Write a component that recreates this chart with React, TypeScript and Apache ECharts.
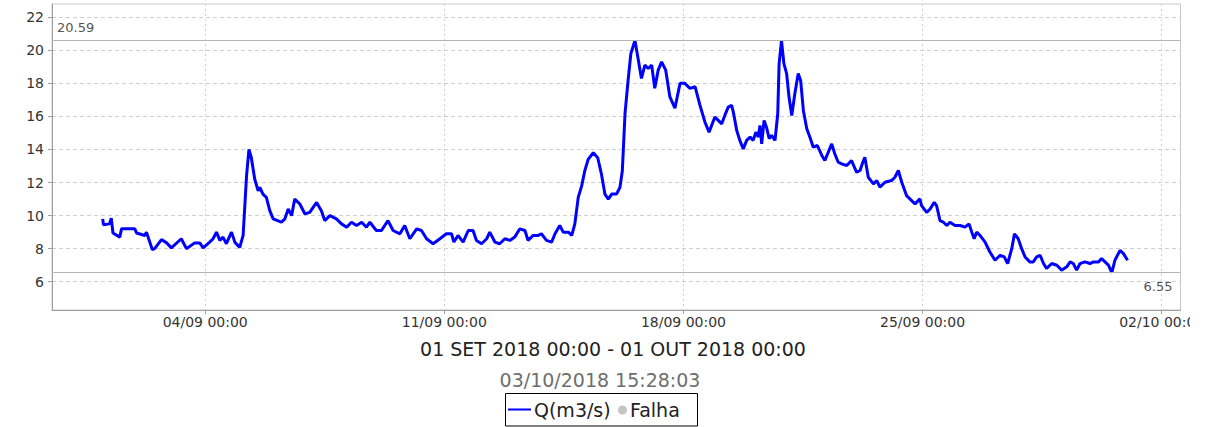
import React, { useEffect, useRef } from "react";
import * as echarts from "echarts";

const seriesName = "Q(m3/s)";
const failName = "Falha";
const periodTitle = "01 SET 2018 00:00 - 01 OUT 2018 00:00";
const generatedAt = "03/10/2018 15:28:03";

const startUtc = Date.UTC(2018, 8, 1);
const DAY = 86400000;

// days since 01/09/2018 00:00
const dayOffsets = [
  0.0, 0.02, 0.2, 0.25, 0.3, 0.5, 0.55, 0.94, 0.99, 1.23, 1.28, 1.45, 1.52, 1.72, 1.87, 2.01, 2.3, 2.45, 2.69,
  2.84, 2.94, 3.13, 3.23, 3.33, 3.43, 3.52, 3.62, 3.77, 3.87, 4.01, 4.11, 4.21, 4.28, 4.35, 4.45, 4.55, 4.6,
  4.69, 4.79, 4.89, 4.99, 5.23, 5.33, 5.43, 5.53, 5.62, 5.77,
  5.92, 6.06, 6.26, 6.4, 6.5, 6.65, 6.84, 6.99, 7.14, 7.28, 7.43, 7.58, 7.72, 7.82, 8.01, 8.16, 8.35, 8.5,
  8.7, 8.84, 8.99, 9.19, 9.33, 9.48, 9.67, 9.87, 10.06, 10.21, 10.28, 10.4, 10.55, 10.7, 10.84, 10.94, 11.09,
  11.24, 11.33, 11.48, 11.62,
  11.77, 11.92, 12.06, 12.21, 12.36, 12.45, 12.6, 12.75, 12.84, 12.99, 13.14, 13.24, 13.38, 13.48, 13.63,
  13.73, 13.82, 13.92, 14.02, 14.11, 14.21, 14.36, 14.49, 14.6, 14.7, 14.8, 14.9, 15.04, 15.14, 15.21, 15.29,
  15.38, 15.46, 15.58, 15.68, 15.77, 15.87, 15.97, 16.07, 16.16, 16.26, 16.36, 16.48, 16.6, 16.75, 16.9,
  17.04, 17.19, 17.34, 17.48, 17.63, 17.75, 17.92,
  18.02, 18.12, 18.21, 18.31, 18.41, 18.46, 18.56, 18.65, 18.75, 18.85, 18.95, 19.04, 19.12, 19.19, 19.24,
  19.29, 19.36, 19.43, 19.51, 19.58, 19.68, 19.76, 19.8, 19.87, 19.94, 20.02, 20.09, 20.17, 20.26, 20.36,
  20.43, 20.51, 20.61, 20.7, 20.8, 20.92, 21.05, 21.14, 21.24, 21.34, 21.43, 21.53, 21.63, 21.78, 21.92,
  22.07, 22.17, 22.25, 22.31, 22.41, 22.56, 22.66, 22.75, 22.9, 23.09, 23.19, 23.29, 23.39, 23.53, 23.68,
  23.78, 23.92,
  23.97, 24.12, 24.22, 24.34, 24.41, 24.51, 24.61, 24.71, 24.8, 24.95, 25.1, 25.24, 25.36, 25.44, 25.51,
  25.58, 25.68, 25.83, 25.97, 26.12, 26.27, 26.39, 26.49, 26.61, 26.69, 26.8, 26.9, 27.0, 27.14, 27.24,
  27.34, 27.44, 27.54, 27.63, 27.78, 27.93, 28.07, 28.22, 28.32, 28.41, 28.51, 28.61, 28.75, 28.9, 29.0,
  29.15, 29.24, 29.34, 29.44, 29.54, 29.63, 29.78, 29.88, 30.0,
];

const flowValues = [
  9.8, 9.45, 9.5, 9.84, 8.95, 8.7, 9.2, 9.2, 8.95, 8.8, 9.0, 7.95, 8.0, 8.55, 8.35, 8.05, 8.6, 8.0, 8.35,
  8.35, 8.05, 8.4, 8.6, 9.0, 8.5, 8.7, 8.3, 9.0, 8.38, 8.08, 8.8, 12.4, 14.0, 13.5, 12.2, 11.5, 11.7,
  11.3, 11.1, 10.3, 9.8, 9.6, 9.8, 10.4, 10.0, 11.0, 10.7,
  10.1, 10.2, 10.8, 10.3, 9.7, 10.0, 9.8, 9.5, 9.3, 9.6, 9.4, 9.6, 9.3, 9.6, 9.1, 9.1, 9.7, 9.1,
  8.9, 9.4, 8.6, 9.2, 9.1, 8.6, 8.3, 8.6, 8.9, 8.9, 8.4, 8.8, 8.4, 9.1, 9.1, 8.5, 8.3,
  8.6, 9.0, 8.4, 8.3,
  8.6, 8.5, 8.7, 9.2, 9.1, 8.5, 8.8, 8.8, 8.9, 8.5, 8.4, 8.9, 9.4, 9.0, 9.0,
  8.8, 9.5, 11.1, 11.8, 12.7, 13.4, 13.8, 13.5, 12.5, 11.3, 11.0, 11.3, 11.3, 11.7, 12.7, 16.2,
  18.2, 19.8, 20.59, 19.4, 18.3, 19.1, 18.9, 19.1, 17.7, 18.8, 19.3, 18.8, 17.2, 16.5, 18.0,
  18.0, 17.7, 17.8, 16.7, 15.65, 15.05, 15.96,
  15.76, 15.55, 16.06, 16.56, 16.67, 16.26, 15.15, 14.55, 14.04, 14.55, 14.75, 14.55, 15.05, 14.75, 15.45,
  14.34, 15.76, 15.35, 14.65, 14.85, 14.55, 16.16, 19.19, 20.59, 19.19, 18.59, 17.17, 16.06, 17.37, 18.59,
  18.18, 16.36, 15.25, 14.75, 14.14, 14.24, 13.64, 13.33, 13.84, 14.34, 13.74, 13.23, 13.13, 13.03, 13.33,
  12.62, 12.73, 13.23, 13.53, 12.32, 11.92, 12.12, 11.72, 12.02, 12.12, 12.32, 12.73, 12.02, 11.21, 10.91,
  10.71, 11.01,
  10.6, 10.2, 10.4, 10.8, 10.6, 9.7, 9.6, 9.4, 9.6, 9.4, 9.4, 9.3, 9.5, 9.0, 8.6,
  9.0, 8.8, 8.4, 7.8, 7.3, 7.6, 7.5, 7.1, 8.0, 8.9, 8.6, 8.0, 7.5, 7.2, 7.2,
  7.5, 7.6, 7.1, 6.8, 7.1, 7.0, 6.7, 6.9, 7.2, 7.1, 6.7, 7.1, 7.2, 7.1, 7.2,
  7.2, 7.4, 7.2, 7.0, 6.55, 7.3, 7.9, 7.7, 7.3,
];

const xTickDays = [3, 10, 17, 24, 31];
const yTickValues = [6, 8, 10, 12, 14, 16, 18, 20, 22];
const maxFlow = 20.59;
const minFlow = 6.55;
const xMinDay = -1.485;
const xMaxDay = 31.55;
const yMin = 4.29;
const yMax = 22.8;

const FONT = '"DejaVu Sans", sans-serif';

function pad(n: number) {
  return n < 10 ? "0" + n : "" + n;
}
function fmtTick(v: number) {
  const d = new Date(v);
  return (
    pad(d.getUTCDate()) + "/" + pad(d.getUTCMonth() + 1) + " " + pad(d.getUTCHours()) + ":" + pad(d.getUTCMinutes())
  );
}

export default function App() {
  const ref = useRef<HTMLDivElement>(null);
  useEffect(() => {
    if (!ref.current) return;
    const chart = echarts.init(ref.current, undefined, { renderer: "svg" });
    const data = dayOffsets.map((d, i) => [startUtc + d * DAY, flowValues[i]]);
    const xTicks = xTickDays.map((d) => startUtc + d * DAY);
    chart.setOption({
      animation: false,
      backgroundColor: "#ffffff",
      grid: {
        left: 52,
        right: 9.5,
        top: 4,
        bottom: 117,
        containLabel: false,
        outerBoundsMode: "none",
        show: true,
        borderColor: "#c8c8c8",
        borderWidth: 1,
        backgroundColor: "#ffffff",
      },
      xAxis: {
        type: "value",
        min: startUtc + xMinDay * DAY,
        max: startUtc + xMaxDay * DAY,
        axisLine: { show: true, onZero: false, lineStyle: { color: "#a0a0a0", width: 1 } },
        axisTick: { show: true, length: 4, customValues: xTicks, lineStyle: { color: "#a0a0a0" } },
        axisLabel: {
          customValues: xTicks,
          formatter: (v: number) => fmtTick(v),
          fontSize: 14,
          color: "#333333",
          fontFamily: FONT,
          margin: 5,
          showMinLabel: true,
          showMaxLabel: true,
          hideOverlap: false,
        },
        splitLine: { show: true, customValues: xTicks, lineStyle: { type: [2, 3], color: "#d0d0d0", width: 1 } },
      },
      yAxis: {
        type: "value",
        min: yMin,
        max: yMax,
        axisLine: { show: true, lineStyle: { color: "#a0a0a0", width: 1 } },
        axisTick: { show: true, length: 4, customValues: yTickValues, lineStyle: { color: "#a0a0a0" } },
        axisLabel: {
          customValues: yTickValues,
          fontSize: 14,
          color: "#333333",
          fontFamily: FONT,
          margin: 8,
        },
        splitLine: {
          show: true,
          customValues: yTickValues,
          lineStyle: { type: [4, 3], color: "#d0d0d0", width: 1 },
        },
      },
      series: [
        {
          type: "line",
          name: seriesName,
          data,
          symbol: "none",
          showSymbol: false,
          lineStyle: { color: "#0000ff", width: 3 },
          itemStyle: { color: "#0000ff" },
          markLine: {
            silent: true,
            symbol: "none",
            lineStyle: { color: "#b4b4b4", type: "solid", width: 1 },
            data: [
              {
                yAxis: maxFlow,
                label: {
                  show: true,
                  position: "insideStartTop",
                  formatter: maxFlow.toFixed(2),
                  fontSize: 13,
                  color: "#555555",
                  fontFamily: FONT,
                  distance: [5, 7],
                },
              },
              {
                yAxis: minFlow,
                label: {
                  show: true,
                  position: "insideEndBottom",
                  formatter: minFlow.toFixed(2),
                  fontSize: 13,
                  color: "#555555",
                  fontFamily: FONT,
                  distance: [8, 7],
                },
              },
            ],
          },
        },
        {
          type: "scatter",
          name: failName,
          data: [],
          itemStyle: { color: "#c4c4c4" },
        },
      ],
      graphic: [
        {
          type: "text",
          x: 613,
          y: 349,
          style: {
            text: periodTitle,
            font: "19px " + FONT,
            fill: "#222222",
            align: "center",
            textAlign: "center",
            verticalAlign: "middle",
            textVerticalAlign: "middle",
          },
        },
        {
          type: "text",
          x: 600,
          y: 380,
          style: {
            text: generatedAt,
            font: "19px " + FONT,
            fill: "#6e6e6e",
            align: "center",
            textAlign: "center",
            verticalAlign: "middle",
            textVerticalAlign: "middle",
          },
        },
        {
          type: "rect",
          shape: { x: 505.5, y: 393.5, width: 192, height: 32.5 },
          style: { fill: "#ffffff", stroke: "#000000", lineWidth: 1 },
        },
        {
          type: "line",
          shape: { x1: 508, y1: 409.5, x2: 531, y2: 409.5 },
          style: { stroke: "#0000ff", lineWidth: 2 },
        },
        {
          type: "text",
          x: 534,
          y: 410,
          style: {
            text: seriesName,
            font: "19px " + FONT,
            fill: "#222222",
            align: "left",
            textAlign: "left",
            verticalAlign: "middle",
            textVerticalAlign: "middle",
          },
        },
        {
          type: "circle",
          shape: { cx: 622.5, cy: 410, r: 4.5 },
          style: { fill: "#c4c4c4" },
        },
        {
          type: "text",
          x: 630,
          y: 410,
          style: {
            text: failName,
            font: "19px " + FONT,
            fill: "#222222",
            align: "left",
            textAlign: "left",
            verticalAlign: "middle",
            textVerticalAlign: "middle",
          },
        },
      ],
    });
    return () => chart.dispose();
  }, []);
  return (
    <div
      ref={ref}
      style={{ position: "absolute", left: 0, top: 0, width: 1190, height: 427, overflow: "hidden" }}
    />
  );
}
